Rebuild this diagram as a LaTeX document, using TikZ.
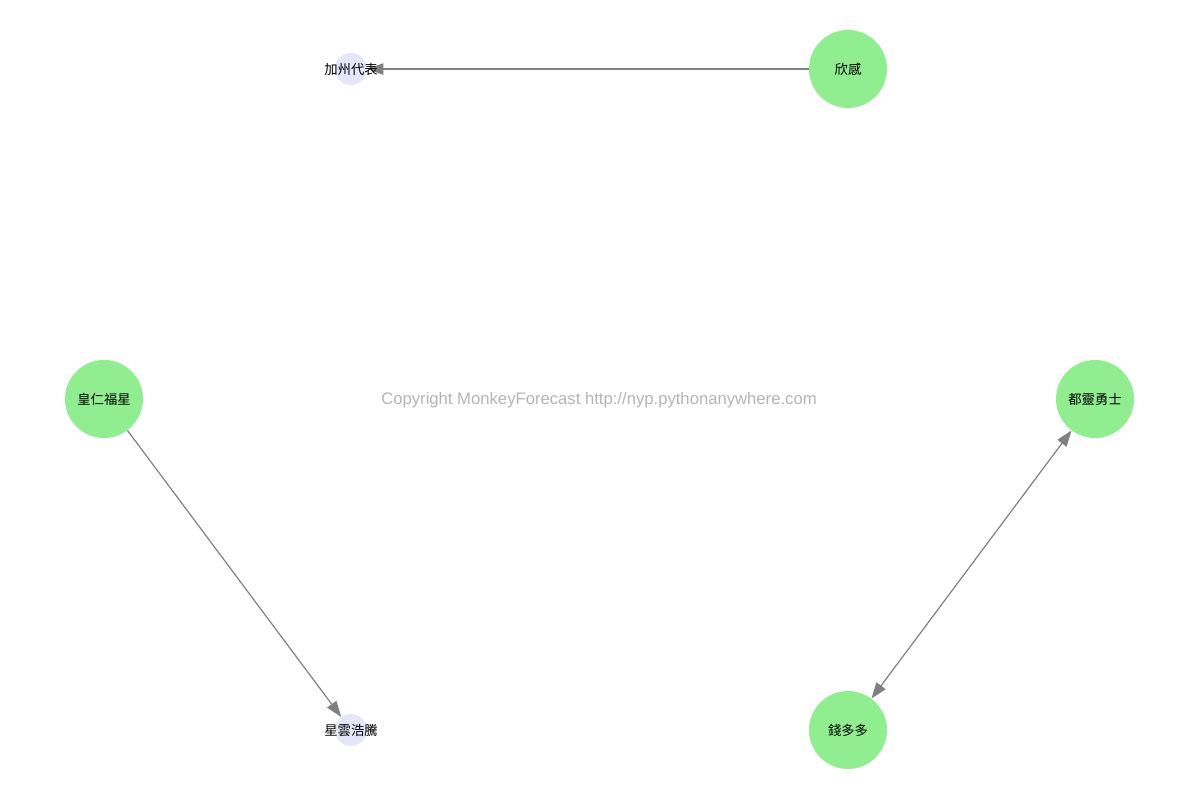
\documentclass[tikz,border=0pt]{standalone}
\usepackage{fontspec}
\setmainfont{Liberation Sans}
\newfontfamily\cjk{Noto Sans CJK TC}
\usetikzlibrary{arrows.meta}
\definecolor{lgreen}{HTML}{90EE90}
\definecolor{lav}{HTML}{E6E6FA}
\definecolor{edgegray}{HTML}{808080}
\definecolor{wmgray}{HTML}{B4B4B4}
\begin{document}
\begin{tikzpicture}[x=0.75pt,y=-0.75pt,
  big/.style={circle,fill=lgreen,draw=none,minimum size=78*0.75pt,inner sep=0pt},
  small/.style={circle,fill=lav,draw=none,minimum size=32*0.75pt,inner sep=0pt},
  lbl/.style={font=\cjk\fontsize{10pt}{12pt}\selectfont,inner sep=0pt},
  edge/.style={draw=edgegray,line width=0.9pt,-{Triangle[length=12pt,width=8.5pt]}},
  edgeb/.style={draw=edgegray,line width=0.9pt,{Triangle[length=12pt,width=8.5pt]}-{Triangle[length=12pt,width=8.5pt]}}]
\useasboundingbox (0,0) rectangle (1200,800);
\node[small] (ca) at (351,69) {};
\node[big] (xg) at (848,69) {};
\node[big] (hr) at (104,399) {};
\node[big] (dl) at (1095,399) {};
\node[small] (xy) at (351,730) {};
\node[big] (qd) at (848,730) {};
\draw[edge] (xg) -- (ca);
\draw[edge] (hr) -- (xy);
\draw[edgeb] (qd) -- (dl);
\node[lbl] (tca) at (ca) {加州代表};
\node[lbl] (txg) at (xg) {欣感};
\node[lbl] (thr) at (hr) {皇仁福星};
\node[lbl] (tdl) at (dl) {都靈勇士};
\node[lbl] (txy) at (xy) {星雲浩騰};
\node[lbl] (tqd) at (qd) {錢多多};
\node[text=wmgray,font=\fontsize{12.5pt}{15pt}\selectfont,inner sep=0pt] (wm) at (599,400) {Copyright MonkeyForecast http://nyp.pythonanywhere.com};
\end{tikzpicture}
\end{document}
